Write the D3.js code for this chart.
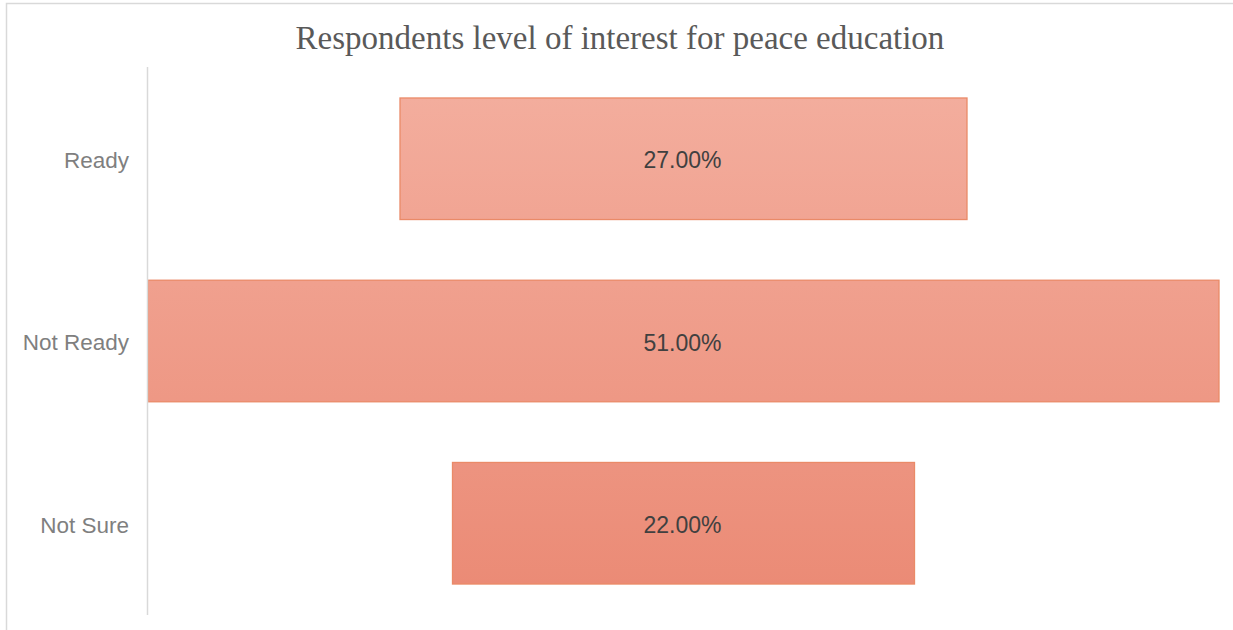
<!DOCTYPE html>
<html>
<head>
<meta charset="utf-8">
<script src="https://cdn.jsdelivr.net/npm/d3@7"></script>
<style>
  body { margin: 0; background: #fff; }
  svg { display: block; }
</style>
</head>
<body>
<svg id="chart"></svg>
<script>
const width = 1233;
const height = 630;

// data
const categories = ["Ready", "Not Ready", "Not Sure"];
const values = [27, 51, 22];
const valueLabels = ["27.00%", "51.00%", "22.00%"];
const title = "Respondents level of interest for peace education";

const svg = d3.select("#chart").attr("width", width).attr("height", height);

// chart frame
svg.append("rect")
  .attr("x", 6.5).attr("y", 3.5)
  .attr("width", width + 10).attr("height", height + 10)
  .attr("fill", "#fff")
  .attr("stroke", "#d9d9d9")
  .attr("stroke-width", 1.5);

const plot = { left: 147, right: 1219, top: 67, bottom: 615 };
const center = (plot.left + 1 + plot.right) / 2;

const y = d3.scaleBand()
  .domain(categories)
  .range([plot.top, plot.bottom])
  .paddingInner(0.333)
  .paddingOuter(0.17);

const x = d3.scaleLinear()
  .domain([0, d3.max(values)])
  .range([0, plot.right - plot.left - 1]);

// gradient over the whole plot height
const defs = svg.append("defs");
const grad = defs.append("linearGradient")
  .attr("id", "barGrad")
  .attr("gradientUnits", "userSpaceOnUse")
  .attr("x1", 0).attr("x2", 0)
  .attr("y1", y(categories[0])).attr("y2", y(categories[2]) + y.bandwidth());
grad.append("stop").attr("offset", "0%").attr("stop-color", "#f3ad9d");
grad.append("stop").attr("offset", "100%").attr("stop-color", "#eb8b76");

const data = categories.map((c, i) => ({ cat: c, value: values[i], label: valueLabels[i] }));

svg.selectAll(".bar")
  .data(data)
  .enter()
  .append("rect")
  .attr("class", "bar")
  .attr("x", d => center - x(d.value) / 2)
  .attr("y", d => y(d.cat))
  .attr("width", d => x(d.value))
  .attr("height", y.bandwidth())
  .attr("fill", "url(#barGrad)")
  .attr("stroke", "#ea8a68")
  .attr("stroke-width", 1.3);

svg.selectAll(".val")
  .data(data)
  .enter()
  .append("text")
  .attr("class", "val")
  .attr("x", center - 1)
  .attr("y", d => y(d.cat) + y.bandwidth() / 2)
  .attr("dy", "0.42em")
  .attr("text-anchor", "middle")
  .attr("font-family", "'Liberation Sans', Arial, sans-serif")
  .attr("font-size", 23)
  .attr("fill", "#404040")
  .text(d => d.label);

// category axis
const yAxis = svg.append("g")
  .attr("transform", `translate(${plot.left},0)`)
  .call(d3.axisLeft(y).tickSize(0).tickPadding(18));
yAxis.select(".domain")
  .attr("d", `M0.5,${plot.top}V${plot.bottom}`)
  .attr("stroke", "#d9d9d9")
  .attr("stroke-width", 1.5);
yAxis.selectAll("text")
  .attr("dy", "0.42em")
  .attr("font-family", "'Liberation Sans', Arial, sans-serif")
  .attr("font-size", 22.5)
  .attr("fill", "#7f7f7f");

svg.append("text")
  .attr("x", 620)
  .attr("y", 49)
  .attr("text-anchor", "middle")
  .attr("font-family", "'Liberation Serif', 'Times New Roman', serif")
  .attr("font-size", 33)
  .attr("fill", "#595959")
  .text(title);
</script>
</body>
</html>
